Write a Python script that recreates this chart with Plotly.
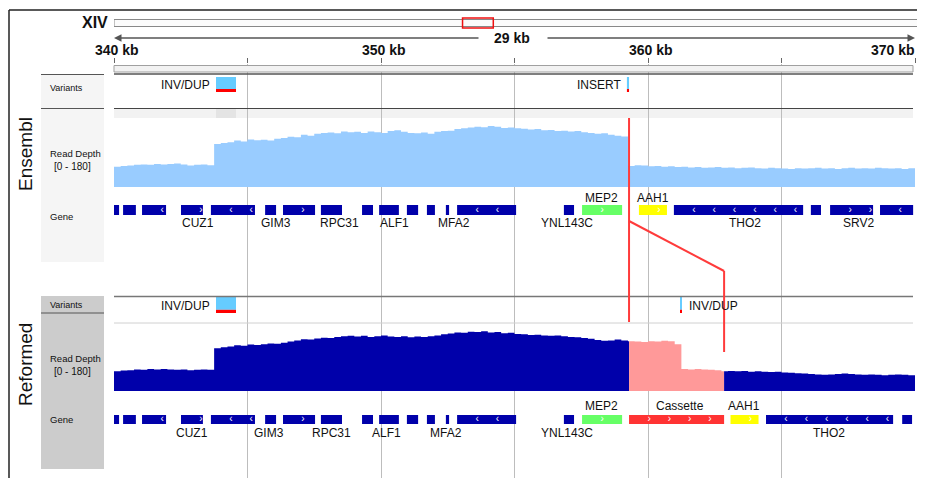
import plotly.graph_objects as go

W, H = 925, 478
OX, OY = 8, 8  # page body margin offset of the plot div
FONT = "Liberation Sans, Arial, sans-serif"

# ---------------- data ----------------
view_start, view_end = 340.0, 370.0
chrom_name = "XIV"
chrom_len_kb = 784.3
span_label = "29 kb"
tick_kb = [340, 345, 350, 355, 360, 365, 370]
tick_label_kb = [340, 350, 360, 370]
tick_label_text = ["340 kb", "350 kb", "360 kb", "370 kb"]

depth_bin_start = 340.0
depth_bin_kb = 0.25
ens_depth = [53, 55, 56, 58, 59, 58, 60, 59, 60, 61, 59, 56, 58, 59, 57,
             112, 115, 117, 121, 119, 124, 122, 123, 121, 126, 128, 131, 130, 136, 134,
             139, 141, 142, 140, 145, 143, 144, 141, 145, 143, 141, 146, 148, 144, 141,
             140, 142, 139, 144, 146, 147, 151, 153, 155, 157, 156, 159, 157, 154, 155,
             153, 152, 150, 151, 148, 149, 146, 147, 145, 146, 143, 141, 139, 140, 136,
             134, 132, 55, 57, 56, 54, 55, 53, 54, 52, 53, 51, 52, 50, 51,
             52, 50, 51, 49, 50, 51, 49, 48, 50, 49, 48, 47, 49, 48, 49,
             50, 48, 49, 47, 49, 50, 48, 49, 48, 50, 49, 48, 49, 47, 49, 48]
ref_depth = [52, 54, 55, 57, 56, 58, 57, 58, 57, 56, 57, 55, 56, 57, 56,
             113, 116, 118, 121, 120, 123, 122, 124, 126, 125, 128, 131, 134, 137, 136,
             139, 141, 140, 143, 145, 146, 144, 146, 143, 145, 147, 144, 143, 145, 142,
             144, 143, 145, 147, 150, 152, 155, 154, 157, 156, 158, 155, 156, 153, 154,
             151, 150, 148, 149, 147, 146, 147, 145, 143, 142, 140, 138, 135, 133, 134,
             136, 134, 132, 131, 130, 132, 131, 133, 132, 124, 58, 57, 58, 57, 56,
             55, 52, 53, 52, 53, 51, 52, 51, 50, 51, 49, 48, 47, 46, 45,
             44, 43, 44, 45, 46, 45, 44, 43, 44, 43, 42, 43, 44, 43, 42, 42]

cassette_start, cassette_end = 359.29, 362.85

ens_gene_start = [340.00, 340.34, 341.05, 342.51, 343.63, 345.66, 346.33, 347.75, 349.29, 349.93, 350.97,
                  351.72, 352.43, 352.85, 356.85, 357.53, 359.66, 360.97, 366.10, 366.82, 368.69]
ens_gene_end = [340.19, 340.82, 341.95, 343.33, 345.28, 346.07, 347.53, 348.54, 349.70, 350.67, 351.39,
                352.02, 352.55, 355.06, 357.23, 359.03, 360.71, 365.81, 366.48, 368.43, 369.93]
ens_gene_strand = ["", "", "-", "+", "-", "", "+", "", "", "", "",
                   "", "", "-", "", "+", "+", "-", "", "+", "-"]
ens_gene_kind = ["gene"] * 15 + ["MEP2", "AAH1", "gene", "gene", "gene", "gene"]

ref_gene_start = ens_gene_start[:16] + [359.29, 363.09, 364.42, 369.52]
ref_gene_end = ens_gene_end[:16] + [362.85, 364.14, 369.18, 369.89]
ref_gene_strand = ens_gene_strand[:16] + ["+", "+", "-", ""]
ref_gene_kind = ens_gene_kind[:16] + ["Cassette", "AAH1", "gene", "gene"]

ens_label_name = ["CUZ1", "GIM3", "RPC31", "ALF1", "MFA2", "YNL143C", "THO2", "SRV2"]
ens_label_kb = [343.15, 346.07, 348.45, 350.49, 352.73, 356.97, 363.63, 367.87]
ens_top_label_name = ["MEP2", "AAH1"]
ens_top_label_kb = [358.24, 360.19]
ref_label_name = ["CUZ1", "GIM3", "RPC31", "ALF1", "MFA2", "YNL143C", "THO2"]
ref_label_kb = [342.92, 345.81, 348.16, 350.22, 352.45, 356.97, 366.78]
ref_top_label_name = ["MEP2", "Cassette", "AAH1"]
ref_top_label_kb = [358.24, 361.20, 363.61]

ens_var_start = [343.82, 359.21]
ens_var_end = [344.57, 359.29]
ens_var_name = ["INV/DUP", "INSERT"]
ens_var_side = ["left", "left"]
ref_var_start = [343.82, 361.20]
ref_var_end = [344.57, 361.27]
ref_var_name = ["INV/DUP", "INV/DUP"]
ref_var_side = ["left", "right"]

# ---------------- styles ----------------
KIND_COLOR = {"gene": "#0000aa", "MEP2": "#66ff66", "AAH1": "#ffff00", "Cassette": "#ff3333"}
ENS_FILL = "#99ccff"
REF_FILL = "#0000aa"
CAS_FILL = "#ff9999"
VAR_BLUE = "#66ccff"
VAR_RED = "#ff0000"
LINK_RED = "#ff3b3b"


def py(y):
    return 1 - (y - OY) / H


def px(x):
    return (x - OX) / W


fig = go.Figure()
shapes = []
annotations = []


def ann(text, x, y, xref="paper", size=12, xanchor="center", bold=False, angle=0,
        color="#111111", xshift=0):
    annotations.append(dict(
        text=f"<b>{text}</b>" if bold else text, x=x, y=py(y), xref=xref, yref="paper",
        xanchor=xanchor, yanchor="middle", showarrow=False, textangle=angle, xshift=xshift,
        font=dict(family=FONT, size=size, color=color)))


def hline(y, x0, x1, color, width=1, xref="paper"):
    shapes.append(dict(type="line", xref=xref, yref="paper", x0=x0, x1=x1, y0=py(y), y1=py(y),
                       line=dict(color=color, width=width), layer="above"))


def rect(x0, x1, y0, y1, fill, line=None, lw=0, xref="paper", layer="above"):
    shapes.append(dict(type="rect", xref=xref, yref="paper", x0=x0, x1=x1, y0=py(y1), y1=py(y0),
                       fillcolor=fill, line=dict(color=line or fill, width=lw), layer=layer))


# dummy traces so that the base subplots exist
fig.add_trace(go.Scatter(x=[view_start], y=[0.5], xaxis="x", yaxis="y", mode="markers",
                         marker=dict(opacity=0), hoverinfo="skip", showlegend=False))
fig.add_trace(go.Scatter(x=[0], y=[0.5], xaxis="x2", yaxis="y", mode="markers",
                         marker=dict(opacity=0), hoverinfo="skip", showlegend=False))

# ---------------- read depth ----------------
depth_kb = [depth_bin_start + i * depth_bin_kb for i in range(len(ens_depth))]


def segment(kb, vals, a, b):
    idx = max(i for i, k in enumerate(kb) if k <= a)
    xs, ys = [a], [vals[idx]]
    for k, v in zip(kb, vals):
        if a < k < b:
            xs.append(k)
            ys.append(v)
    xs.append(b)
    ys.append(ys[-1])
    return xs, ys


def area(xs, ys, yaxis, color):
    fig.add_trace(go.Scatter(x=xs, y=ys, xaxis="x", yaxis=yaxis, mode="lines", line_shape="hv",
                             line=dict(width=0, color=color), fill="tozeroy", fillcolor=color,
                             hoverinfo="skip", showlegend=False))


area(depth_kb, ens_depth, "y2", ENS_FILL)
for a, b, col in [(view_start, cassette_start, REF_FILL), (cassette_start, cassette_end, CAS_FILL),
                  (cassette_end, view_end, REF_FILL)]:
    xs, ys = segment(depth_kb, ref_depth, a, b)
    area(xs, ys, "y3", col)


# ---------------- genes ----------------
def genes(starts, ends, strands, kinds, yaxis):
    fig.add_trace(go.Bar(y=[0] * len(starts), x=[e - s for s, e in zip(starts, ends)], base=starts,
                         orientation="h", width=[1] * len(starts), xaxis="x", yaxis=yaxis,
                         marker=dict(color=[KIND_COLOR[k] for k in kinds], line=dict(width=0)),
                         hoverinfo="skip", showlegend=False))
    cx, ct = [], []
    for s, e, st in zip(starts, ends, strands):
        if not st:
            continue
        p = s + 0.75
        while p <= e - 0.05:
            cx.append(p)
            ct.append("›" if st == "+" else "‹")
            p += 0.76
    fig.add_trace(go.Scatter(x=cx, y=[0] * len(cx), text=ct, mode="text", xaxis="x", yaxis=yaxis,
                             textfont=dict(family=FONT, size=10, color="white"), cliponaxis=False,
                             hoverinfo="skip", showlegend=False))


genes(ens_gene_start, ens_gene_end, ens_gene_strand, ens_gene_kind, "y4")
genes(ref_gene_start, ref_gene_end, ref_gene_strand, ref_gene_kind, "y5")


# ---------------- variants ----------------
def variants(starts, ends, names, sides, yaxis, label_y):
    lengths = [e - s for s, e in zip(starts, ends)]
    n = len(starts)
    fig.add_trace(go.Bar(y=[0.6] * n, x=lengths, base=starts, orientation="h", width=[0.8] * n,
                         xaxis="x", yaxis=yaxis, marker=dict(color=VAR_BLUE, line=dict(width=0)),
                         hoverinfo="skip", showlegend=False))
    fig.add_trace(go.Bar(y=[0.1] * n, x=lengths, base=starts, orientation="h", width=[0.2] * n,
                         xaxis="x", yaxis=yaxis, marker=dict(color=VAR_RED, line=dict(width=0)),
                         hoverinfo="skip", showlegend=False))
    for s, e, name, side in zip(starts, ends, names, sides):
        if side == "left":
            ann(name, s, label_y, xref="x", xanchor="right", xshift=-4)
        else:
            ann(name, e, label_y, xref="x", xanchor="left", xshift=5)


variants(ens_var_start, ens_var_end, ens_var_name, ens_var_side, "y6", 85)
variants(ref_var_start, ref_var_end, ref_var_name, ref_var_side, "y7", 305.5)

# gene labels
for name, k in zip(ens_label_name, ens_label_kb):
    ann(name, k, 223, xref="x")
for name, k in zip(ens_top_label_name, ens_top_label_kb):
    ann(name, k, 198, xref="x")
for name, k in zip(ref_label_name, ref_label_kb):
    ann(name, k, 433, xref="x")
for name, k in zip(ref_top_label_name, ref_top_label_kb):
    ann(name, k, 405.5, xref="x")

# ---------------- header ----------------
ann(chrom_name, px(110), 22.5, size=16, bold=True, xanchor="right")
rect(0, chrom_len_kb, 19.5, 26.5, "#fbfbfb", "#888888", 1, xref="x2")
rect(view_start, view_end, 18, 28, "rgba(0,0,0,0)", "#ee1111", 1.5, xref="x2")

ann(span_label, px(511.5), 37.5, size=14, bold=True)
annotations.append(dict(x=view_start, y=py(38), xref="x", yref="paper", text="", showarrow=True,
                        ax=366, ay=0, axref="pixel", ayref="pixel", arrowhead=2, arrowsize=1,
                        arrowwidth=1.5, arrowcolor="#555555"))
annotations.append(dict(x=view_end, y=py(38), xref="x", yref="paper", text="", showarrow=True,
                        ax=-369, ay=0, axref="pixel", ayref="pixel", arrowhead=2, arrowsize=1,
                        arrowwidth=1.5, arrowcolor="#555555"))

for k, t in zip(tick_label_kb, tick_label_text):
    if k == view_end:
        ann(t, k, 50, xref="x", size=14, bold=True, xanchor="right", xshift=2)
    else:
        ann(t, k, 50, xref="x", size=14, bold=True, xshift=3)

# ruler bar and separators
rect(px(114), px(913), 65.5, 72, "#f2f2f2", "#a0a0a0", 1)
hline(74, px(114), px(913), "#555555", 1.5)
hline(108.5, px(114), px(913), "#444444", 1)
rect(px(114), px(913), 109, 118, "#f2f2f2", layer="below")
rect(ens_var_start[0], ens_var_end[0], 109, 118, "#e4e4e4", xref="x", layer="below")
hline(296.5, px(114), px(913), "#777777", 1.5)
hline(323, px(114), px(913), "#d0d0d0", 1)

# left label panels
rect(px(41), px(104), 75, 262, "#f5f5f5", layer="below")
hline(74.5, px(41), px(104), "#555555", 1)
hline(108.5, px(41), px(104), "#555555", 1)
rect(px(41), px(104), 296, 469, "#cccccc", layer="below")
hline(313, px(41), px(104), "#555555", 1)

for rows in [[("Variants", 88, 9), ("Read Depth", 153, 9.5), ("[0 - 180]", 166.5, 10), ("Gene", 216, 9.5)],
             [("Variants", 305, 9), ("Read Depth", 358, 9.5), ("[0 - 180]", 371.5, 10), ("Gene", 419, 9.5)]]:
    for text, y, size in rows:
        ann(text, px(52 if text.startswith("[") else 48), y, size=size, xanchor="left")

ann("Ensembl", px(25), 154, size=19, angle=-90)
ann("Reformed", px(25), 365, size=19, angle=-90)

# outer frame
hline(10, px(9), 1.0, "#222222", 1.5)
shapes.append(dict(type="line", xref="paper", yref="paper", x0=px(9), x1=px(9), y0=py(10), y1=0,
                   line=dict(color="#222222", width=1.5), layer="above"))

# red links between the two assemblies
for x0, y0, x1, y1 in [(cassette_start, 118, cassette_start, 322),
                       (cassette_start, 221, cassette_end, 271),
                       (cassette_end, 271, cassette_end, 352)]:
    shapes.append(dict(type="line", xref="x", yref="paper", x0=x0, x1=x1, y0=py(y0), y1=py(y1),
                       line=dict(color=LINK_RED, width=2), layer="above"))

# ---------------- layout ----------------
hidden = dict(visible=False, fixedrange=True)
fig.update_layout(
    width=W, height=H, autosize=False,
    margin=dict(l=0, r=0, t=0, b=0),
    paper_bgcolor="white", plot_bgcolor="rgba(0,0,0,0)",
    barmode="overlay", showlegend=False,
    xaxis=dict(domain=[px(114), px(915)], range=[view_start, view_end], anchor="y", side="top",
               tickvals=tick_kb, ticks="outside", ticklen=5, tickcolor="#666666",
               showticklabels=False, showgrid=True, gridcolor="#bdbdbd", gridwidth=1,
               zeroline=False, showline=False, fixedrange=True),
    xaxis2=dict(domain=[px(114), px(918)], range=[0, chrom_len_kb], anchor="y", **hidden),
    yaxis=dict(domain=[0, py(64)], range=[0, 1], **hidden),
    yaxis2=dict(domain=[py(187), py(118)], range=[0, 180], **hidden),
    yaxis3=dict(domain=[py(391), py(323)], range=[0, 180], **hidden),
    yaxis4=dict(domain=[py(215), py(205)], range=[-0.5, 0.5], **hidden),
    yaxis5=dict(domain=[py(424), py(415)], range=[-0.5, 0.5], **hidden),
    yaxis6=dict(domain=[py(92), py(77)], range=[0, 1], **hidden),
    yaxis7=dict(domain=[py(313), py(297)], range=[0, 1], **hidden),
    shapes=shapes, annotations=annotations,
    font=dict(family=FONT),
)

fig.write_html("out.html")
